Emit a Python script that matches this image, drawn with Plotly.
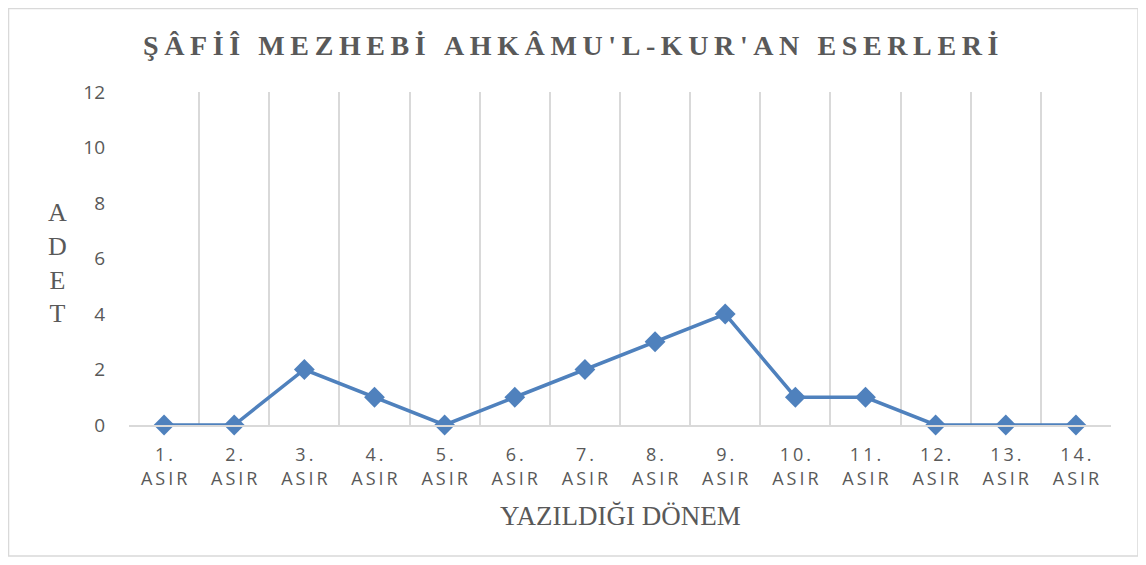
import plotly.graph_objects as go

centuries = [f"{i}." for i in range(1, 15)]
counts = [0, 0, 2, 1, 0, 1, 2, 3, 4, 1, 1, 0, 0, 0]
y_ticks = [0, 2, 4, 6, 8, 10, 12]

TS = "\u2009"  # thin space, stands in for Excel's character spacing


def spaced(text: str) -> str:
    return TS.join(text)


x_pos = list(range(1, len(centuries) + 1))
tick_text = [f"{spaced(c)}<br>{spaced('ASIR')}" for c in centuries]
boundaries = [p - 0.5 for p in x_pos] + [x_pos[-1] + 0.5]

fig = go.Figure()
fig.add_trace(
    go.Scatter(
        x=x_pos,
        y=counts,
        mode="lines+markers",
        line={"color": "#4f81bd", "width": 3.5},
        marker={"symbol": "diamond", "size": 16, "color": "#4f81bd"},
        hoverinfo="skip",
        cliponaxis=False,
    )
)

grey_text = "#595959"
# the page body keeps its default 8px margin, so the figure is 16px smaller than the window
fig.update_layout(
    width=1130,
    height=549,
    margin={"l": 121, "r": 27, "t": 84, "b": 132},
    paper_bgcolor="white",
    plot_bgcolor="white",
    showlegend=False,
    xaxis={
        "range": [0.5, len(x_pos) + 0.5],
        "tickvals": x_pos,
        "ticktext": tick_text,
        "showgrid": False,
        "zeroline": False,
        "showline": True,
        "linecolor": "#d9d9d9",
        "linewidth": 1.5,
        "ticks": "",
        "ticklabelstandoff": 13,
        "tickfont": {"family": "Open Sans", "size": 18, "color": grey_text},
        "minor": {"tickvals": boundaries, "showgrid": True, "gridcolor": "#d9d9d9", "gridwidth": 1.5},
        "fixedrange": True,
    },
    yaxis={
        "range": [0, 12],
        "tickvals": y_ticks,
        "showgrid": False,
        "zeroline": False,
        "showline": False,
        "ticks": "",
        "ticklabelstandoff": 23,
        "tickfont": {"family": "Open Sans", "size": 19, "color": grey_text},
        "fixedrange": True,
    },
)

fig.add_annotation(
    text=spaced("ŞÂFİÎ MEZHEBİ AHKÂMU'L-KUR'AN ESERLERİ"),
    xref="paper", yref="paper", x=0.45, y=1.141,
    xanchor="center", yanchor="middle", showarrow=False,
    font={"family": "Liberation Serif", "size": 28, "color": grey_text, "weight": "bold"},
)
fig.add_annotation(
    text="A<br>D<br>E<br>T",
    xref="paper", yref="paper", x=-0.0733, y=0.486,
    xanchor="center", yanchor="middle", showarrow=False,
    font={"family": "Liberation Serif", "size": 26, "color": grey_text},
)
fig.add_annotation(
    text="YAZILDIĞI DÖNEM",
    xref="paper", yref="paper", x=0.5, y=-0.273,
    xanchor="center", yanchor="middle", showarrow=False,
    font={"family": "Liberation Serif", "size": 27, "color": grey_text},
)
fig.add_shape(
    type="rect", xref="paper", yref="paper",
    x0=-0.1227, x1=1.0275, y0=-0.3934, y1=1.2508,
    line={"color": "#d9d9d9", "width": 1.5}, fillcolor="rgba(0,0,0,0)", layer="below",
)

fig.write_html("out.html")
